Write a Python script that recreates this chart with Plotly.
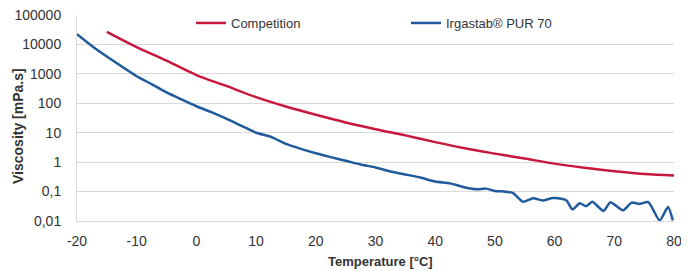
import plotly.graph_objects as go

# Data
temp_competition = [-15, -10, -5, 0, 5, 10, 15, 20, 25, 30, 35, 40, 45, 50, 55, 60, 65, 70, 75, 80]
visc_competition = [26900, 8130, 2820, 912, 389, 162, 77.6, 40.7, 22.4, 13.2, 8.13, 4.79,
                    2.95, 1.95, 1.32, 0.891, 0.646, 0.490, 0.398, 0.355]

temp_irgastab = [-20, -17.5, -15, -12.5, -10, -7.5, -5, -2.5, 0, 2.5, 5, 7.5, 10, 12.5, 15, 17.5,
                 20, 22.5, 25, 27.5, 30, 32.5, 35, 37.5, 40, 42.5,
                 45, 47, 48.5, 50, 51.5, 53, 54.7, 56.4, 58, 59.7, 61.3, 62, 63, 64.2, 65.3,
                 66.3, 68.2, 69.3, 70.3, 71.5, 72.9, 74.2, 75.7, 77.6, 79, 79.8]
visc_irgastab = [22400, 8910, 3890, 1780, 832, 447, 234, 135, 79.4, 50.1, 30.2, 17.4, 10.0, 7.24,
                 4.17, 2.82, 2.0, 1.48, 1.12, 0.83, 0.66, 0.48, 0.38, 0.30, 0.22, 0.19,
                 0.138, 0.120, 0.126, 0.105, 0.100, 0.091, 0.045, 0.059, 0.050, 0.060, 0.056,
                 0.050, 0.025, 0.040, 0.032, 0.045, 0.022, 0.043, 0.033, 0.023, 0.042, 0.038,
                 0.044, 0.0105, 0.030, 0.0105]

y_tickvals = [0.01, 0.1, 1, 10, 100, 1000, 10000, 100000]
y_ticktext = ["0,01", "0,1", "1", "10", "100", "1000", "10000", "100000"]
x_tickvals = [-20, -10, 0, 10, 20, 30, 40, 50, 60, 70, 80]
x_ticktext = ["-20", "-10", "0", "10", "20", "30", "40", "50", "60", "70", "80"]
x_title = "Temperature [°C]"
y_title = "Viscosity [mPa.s]"

RED = "#c8173c"
BLUE = "#1f5a9c"
GRID = "#d9d9d9"
TXT = "#333333"
FONT = "Liberation Sans, Arial, sans-serif"

# page has an 8px body margin; figure placed at (8, 8)
OFF = 8
W, H = 689 - OFF, 271 - OFF
PL, PT, PR, PB = 77, 15, 674, 221          # plot area in page pixels
L, T = PL - OFF, PT - OFF
R = W - (PR - OFF)
B = H - (PB - OFF)
PW = PR - PL
PH = PB - PT

fig = go.Figure()
fig.add_trace(go.Scatter(x=temp_competition, y=visc_competition, mode="lines",
                         name="Competition", line=dict(color=RED, width=2.5, shape="spline"),
                         legend="legend", showlegend=True))
fig.add_trace(go.Scatter(x=temp_irgastab, y=visc_irgastab, mode="lines",
                         name="Irgastab® PUR 70",
                         line=dict(color=BLUE, width=2.5, shape="spline", smoothing=0.6),
                         legend="legend2", showlegend=True))

fig.update_layout(
    width=W, height=H,
    margin=dict(l=L, r=R, t=T, b=B, autoexpand=False),
    showlegend=True,
    paper_bgcolor="white", plot_bgcolor="white",
    font=dict(family=FONT, size=14, color=TXT),
    legend=dict(x=(191 - PL) / PW, xanchor="left", y=1 + 7 / PH, yanchor="top",
                orientation="h", bgcolor="rgba(0,0,0,0)", font=dict(size=13, color=TXT)),
    legend2=dict(x=(406 - PL) / PW, xanchor="left", y=1 + 7 / PH, yanchor="top",
                 orientation="h", bgcolor="rgba(0,0,0,0)", font=dict(size=13, color=TXT)),
    annotations=[
        dict(text="<b>" + y_title + "</b>", xref="paper", yref="paper",
             x=(18 - PL) / PW, y=(PB - 126) / PH, textangle=-90, showarrow=False,
             xanchor="center", yanchor="middle", font=dict(size=14, color=TXT)),
        dict(text="<b>" + x_title + "</b>", xref="paper", yref="paper",
             x=(380 - PL) / PW, y=-(262 - PB) / PH, showarrow=False,
             xanchor="center", yanchor="middle", font=dict(size=13, color=TXT)),
    ],
)

fig.update_xaxes(
    range=[-20, 80], tickvals=x_tickvals, ticktext=x_ticktext, automargin=False,
    showgrid=False, showline=True, linecolor=GRID, linewidth=1, zeroline=False,
    ticks="outside", ticklen=7, tickcolor="rgba(0,0,0,0)", ticklabeloverflow="allow",
    tickfont=dict(size=14, color=TXT),
)
fig.update_yaxes(
    type="log", range=[-2, 5], tickvals=y_tickvals, ticktext=y_ticktext, automargin=False,
    showgrid=True, gridcolor=GRID, gridwidth=1,
    showline=True, linecolor=GRID, linewidth=1, zeroline=False,
    ticks="outside", ticklen=12, tickcolor="rgba(0,0,0,0)", ticklabeloverflow="allow",
    tickfont=dict(size=14, color=TXT),
)

fig.write_html("out.html")
